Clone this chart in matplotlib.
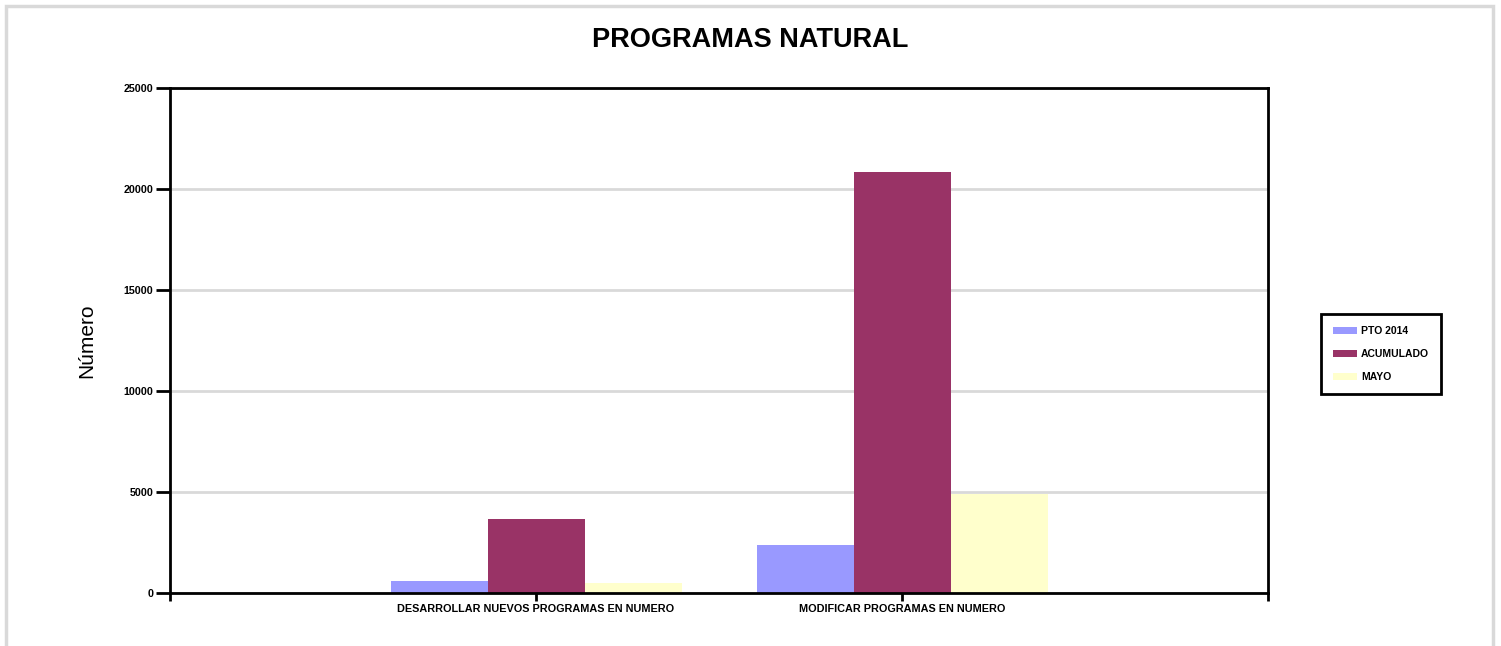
import numpy as np
import matplotlib
matplotlib.use('Agg')
import matplotlib.pyplot as plt
from matplotlib.patches import Rectangle

plt.rcParams['font.family'] = ['Liberation Sans', 'DejaVu Sans']

categorias = ['DESARROLLAR NUEVOS PROGRAMAS EN NUMERO', 'MODIFICAR PROGRAMAS EN NUMERO']
series = ['PTO 2014', 'ACUMULADO', 'MAYO']
pto_2014 = [600, 2380]
acumulado = [3660, 20850]
mayo = [480, 4900]
colores = ['#9999FF', '#993366', '#FFFFCC']

fig = plt.figure(figsize=(15.01, 6.46), dpi=100)
# light frame round the whole chart
fig.patches.append(Rectangle((0.004, -0.01), 0.991, 1.0, transform=fig.transFigure,
                             fill=False, edgecolor='#D9D9D9', linewidth=2.5))

ax = fig.add_axes([0.1133, 0.0820, 0.7315, 0.7817])

x = np.arange(1, len(categorias) + 1)
w = 0.265
for i, (vals, nombre) in enumerate(zip([pto_2014, acumulado, mayo], series)):
    ax.bar(x + (i - 1) * w, vals, width=w, color=colores[i], label=nombre, zorder=3)

ax.set_xlim(0, 3)
ax.set_ylim(0, 25000)
ax.set_yticks([0, 5000, 10000, 15000, 20000, 25000])
ax.set_yticklabels(['0', '5000', '10000', '15000', '20000', '25000'],
                   fontsize=7.7, fontweight='bold')
ax.set_xticks([0, 1, 2, 3])
ax.set_xticklabels([''] + categorias + [''], fontsize=7.8, fontweight='bold')
ax.tick_params(axis='y', length=10, width=2, pad=2)
ax.tick_params(axis='x', length=6, width=2, pad=2)
ax.yaxis.grid(True, color='#D9D9D9', linewidth=2, zorder=0)
ax.set_axisbelow(True)
for s in ax.spines.values():
    s.set_linewidth(2)
    s.set_zorder(4)

ax.set_ylabel('Número', fontsize=15)
ax.yaxis.set_label_coords(-0.0674, 0.5)
fig.text(0.5, 0.938, 'PROGRAMAS NATURAL', fontsize=19.5, fontweight='bold',
         ha='center', va='center')

leg = fig.legend(loc='upper left', bbox_to_anchor=(0.880, 0.5139),
                 bbox_transform=fig.transFigure, fancybox=False, framealpha=1,
                 borderaxespad=0, prop={'size': 7.5, 'weight': 'bold'},
                 handlelength=2.3, handleheight=0.6, labelspacing=1.25,
                 borderpad=1.15, handletextpad=0.4)
leg.get_frame().set_edgecolor('black')
leg.get_frame().set_linewidth(2)

fig.savefig('out.png', dpi=100)
